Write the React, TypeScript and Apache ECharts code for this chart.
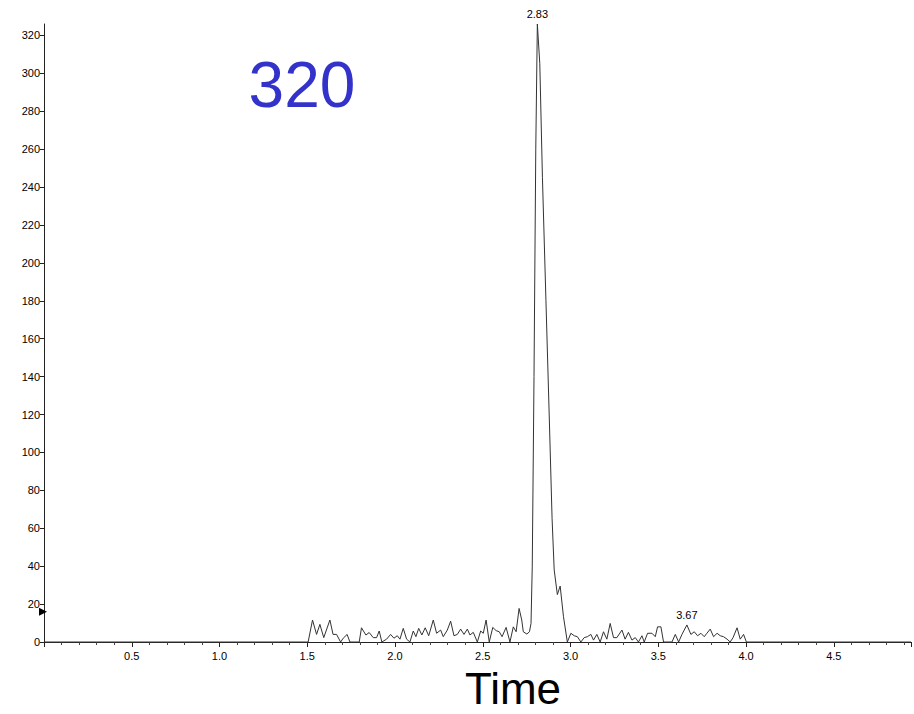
import React, { useEffect, useRef } from "react";
import * as echarts from "echarts";

// Retention time (min) and intensity
const times: number[] = [
  0, 1.505, 1.53, 1.553, 1.572, 1.594, 1.629, 1.647, 1.667, 1.69, 1.705, 1.727, 1.743, 1.796,
  1.809, 1.834, 1.853, 1.876, 1.895, 1.91, 1.925, 1.952, 1.975, 1.994, 2.013, 2.028, 2.047,
  2.066, 2.085, 2.104, 2.119, 2.135, 2.153, 2.172, 2.192, 2.218, 2.237, 2.26, 2.275, 2.298,
  2.317, 2.336, 2.355, 2.374, 2.393, 2.412, 2.427, 2.446, 2.469, 2.488, 2.503, 2.519, 2.537,
  2.557, 2.576, 2.594, 2.61, 2.633, 2.655, 2.674, 2.69, 2.707, 2.722, 2.731, 2.751, 2.766,
  2.775, 2.782, 2.792, 2.802, 2.811, 2.825, 2.84, 2.86, 2.88, 2.895, 2.907, 2.925, 2.941, 2.96,
  2.982, 3.002, 3.021, 3.039, 3.059, 3.078, 3.096, 3.116, 3.131, 3.15, 3.169, 3.188, 3.207,
  3.226, 3.245, 3.264, 3.293, 3.311, 3.33, 3.35, 3.369, 3.387, 3.407, 3.42, 3.439, 3.464,
  3.483, 3.496, 3.515, 3.53, 3.578, 3.597, 3.616, 3.635, 3.663, 3.686, 3.705, 3.724, 3.743,
  3.762, 3.777, 3.796, 3.815, 3.835, 3.853, 3.872, 3.892, 3.91, 3.926, 3.949, 3.967, 3.986,
  4.002, 4.94,
];
const intensity: number[] = [
  0, 0, 11.6, 4, 9.3, 2.3, 11.6, 4, 4, 0, 2, 4, 0, 0,
  7.5, 3.7, 5, 2.3, 2.3, 5.8, 0, 1.5, 4, 2, 3.3, 1.5, 7.2,
  1.5, 0, 5.8, 2.8, 7.2, 3.7, 7.5, 3.3, 11.6, 4.6, 6.3, 2.8, 6.3,
  11, 3.3, 4, 6.8, 4, 6.8, 3.7, 5.1, 0, 5.8, 4.6, 11.6, 0,
  7.7, 6, 5.4, 2.8, 7.7, 0, 8, 5.4, 17.7, 11.6, 5.4, 4.2, 5.4,
  9.8, 40, 140, 260, 326, 305, 245, 180, 115, 65, 38, 25, 29.5, 13.3,
  0, 4.6, 3.3, 2.8, 0, 2.3, 2.8, 4, 1, 4, 0, 5.4, 1.5,
  9.8, 2.3, 2.3, 6.3, 1.5, 5.1, 1, 2.3, 0, 3.3, 0, 4.6, 4.6,
  2.8, 8, 8, 0, 0, 4, 0, 4, 9, 4, 5.4, 3.3, 4.6,
  2.8, 4.6, 6.8, 2.8, 4.6, 3.3, 2.8, 1.5, 0, 2.3, 7.5, 1.5, 4,
  0, 0,
];

// Peak annotations (apex time in data, printed retention time)
const peakTimes: number[] = [2.811, 3.663];
const peakTexts: string[] = ["2.83", "3.67"];

const xTickLabels: number[] = [0.5, 1.0, 1.5, 2.0, 2.5, 3.0, 3.5, 4.0, 4.5];
const yTickStep = 20;
const yTopLabel = 320;
const markerLevel = 16;
const massLabel = "320";
const xTitle = "Time";

export default function App() {
  const ref = useRef<HTMLDivElement>(null);

  useEffect(() => {
    if (!ref.current) return;
    const chart = echarts.init(ref.current, undefined, { renderer: "svg" });

    const font = "Liberation Sans, Arial, sans-serif";
    const data = times.map((t, i) => [t, intensity[i]]);

    const peakMarks = peakTimes.map((t, k) => {
      const i = times.indexOf(t);
      return {
        coord: [t, intensity[i]],
        symbol: "circle",
        symbolSize: 1,
        itemStyle: { color: "rgba(0,0,0,0)" },
        label: {
          show: true,
          position: "top",
          distance: 4,
          formatter: peakTexts[k],
          color: "#000",
          fontSize: 11,
          fontFamily: font,
        },
      };
    });

    chart.setOption({
      animation: false,
      backgroundColor: "#ffffff",
      grid: { left: 44, right: 3, top: 24, bottom: 72, containLabel: false },
      xAxis: {
        type: "value",
        min: 0,
        max: 4.94,
        interval: 0.5,
        axisLine: { show: true, lineStyle: { color: "#222", width: 1 } },
        axisTick: { show: true, length: 5, lineStyle: { color: "#222" } },
        minorTick: { show: true, splitNumber: 5, length: 3, lineStyle: { color: "#444" } },
        splitLine: { show: false },
        axisLabel: {
          color: "#000",
          fontSize: 11,
          fontFamily: font,
          margin: 8,
          showMaxLabel: false,
          formatter: (v: number) => {
            const hit = xTickLabels.find((x) => Math.abs(x - v) < 1e-6);
            return hit !== undefined ? hit.toFixed(1) : "";
          },
        },
      },
      yAxis: {
        type: "value",
        min: 0,
        max: 326,
        interval: yTickStep,
        axisLine: { show: true, lineStyle: { color: "#222", width: 1 } },
        axisTick: { show: true, length: 4, lineStyle: { color: "#222" } },
        splitLine: { show: false },
        axisLabel: {
          color: "#000",
          fontSize: 11,
          fontFamily: font,
          margin: 4,
          showMaxLabel: false,
          formatter: (v: number) =>
            v % yTickStep === 0 && v <= yTopLabel ? String(v) : "",
        },
      },
      graphic: [
        {
          type: "text",
          x: 302,
          y: 85,
          style: {
            text: massLabel,
            fill: "#3333cc",
            font: `64px ${font}`,
            textAlign: "center",
            textVerticalAlign: "middle",
          },
        },
        {
          type: "text",
          x: 513,
          y: 688,
          style: {
            text: xTitle,
            fill: "#000",
            font: `44px ${font}`,
            textAlign: "center",
            textVerticalAlign: "middle",
          },
        },
      ],
      series: [
        {
          type: "line",
          data,
          showSymbol: false,
          symbol: "none",
          clip: false,
          lineStyle: { color: "#333", width: 1 },
          markPoint: {
            silent: true,
            data: [
              {
                coord: [0, markerLevel],
                symbol: "triangle",
                symbolSize: [8, 8],
                symbolRotate: -90,
                symbolOffset: [-1, 0],
                itemStyle: { color: "#000" },
                label: { show: false },
              },
              ...peakMarks,
            ],
          },
        },
      ],
    });

    return () => chart.dispose();
  }, []);

  return (
    <div
      ref={ref}
      style={{ position: "fixed", left: 0, top: 0, width: 914, height: 714, background: "#fff" }}
    />
  );
}
